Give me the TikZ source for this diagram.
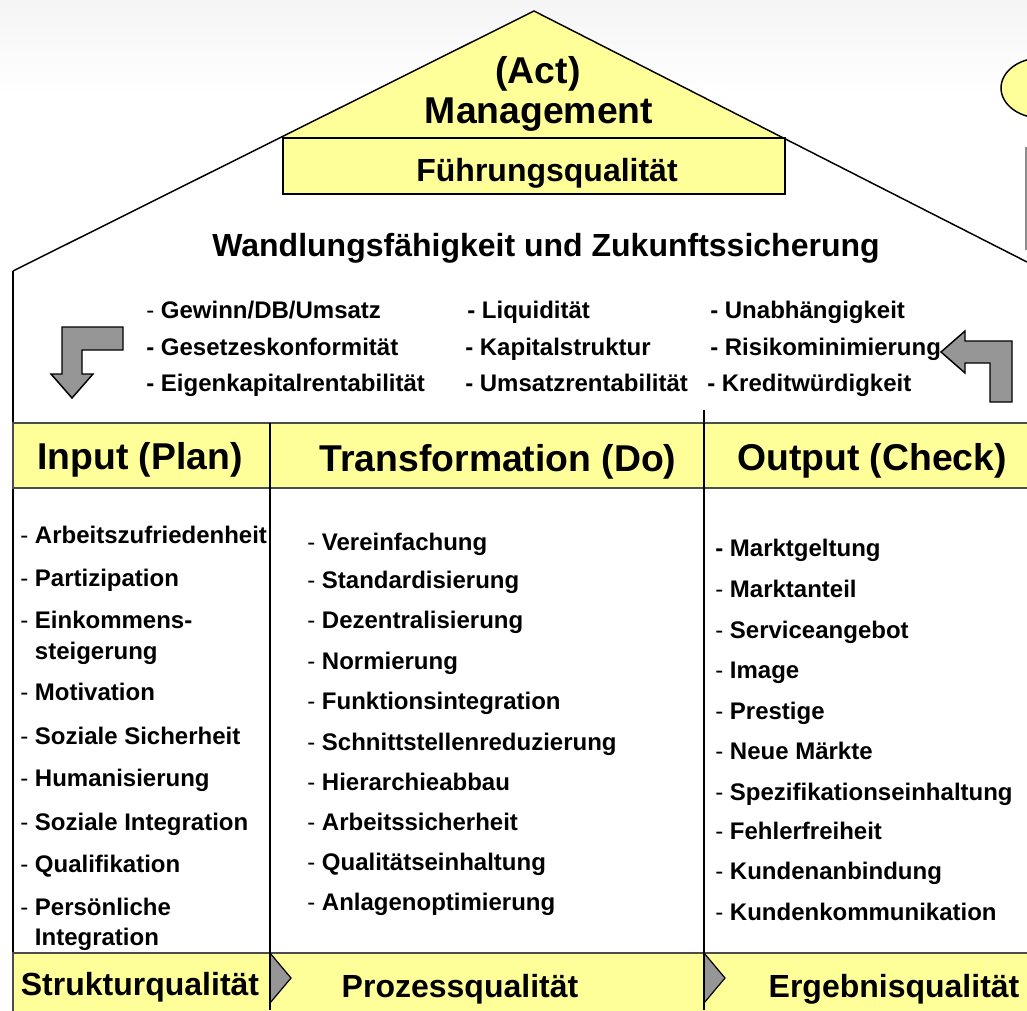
\documentclass[tikz,border=0pt]{standalone}
\usepackage{fontspec}
\setmainfont{Liberation Sans}
\usetikzlibrary{calc}
\definecolor{paleyellow}{HTML}{FFFF99}
\definecolor{arrowgray}{HTML}{969696}
\newcommand\thindash{{\mdseries -}}

\begin{document}
\begin{tikzpicture}[x=0.75pt,y=-0.75pt,
  lst/.style={anchor=base west,inner sep=0pt,font=\fontsize{18}{20}\selectfont\bfseries},
  ttl/.style={anchor=base,inner sep=0pt,font=\fontsize{24}{28}\selectfont\bfseries},
  big/.style={anchor=base,inner sep=0pt,font=\fontsize{28}{32}\selectfont\bfseries},
  wall/.style={draw=black,line width=1.1pt},
  yellowbox/.style={fill=paleyellow,draw=black,line width=1.4pt},
  bentarrow/.style={fill=arrowgray,draw=black,line width=1.1pt,line join=miter},
  chevron/.style={fill=arrowgray,draw=black,line width=0.9pt}]

\useasboundingbox (0,0) rectangle (1027,1010);
\begin{scope}
\clip (0,0) rectangle (1027,1010);

% faint slide background
\fill[white] (0,0) rectangle (1027,1010);
\shade[top color=black!4,bottom color=white] (0,0) rectangle (1027,95);

% key points of the house outline
\coordinate (apex) at (534,11);
\coordinate (eaveL) at (13,271);
\coordinate (eaveR) at (1027,262);
\coordinate (gableL) at (280,138);
\coordinate (gableR) at (784,138);

% right-hand callout, mostly off the page
\draw[fill=paleyellow,draw=black,line width=1.1pt] (1041,88) ellipse [x radius=40,y radius=30];
\draw[black!45,line width=0.8pt] (1026,147) -- (1026,250);

% gable (management) and leadership bar
\fill[paleyellow] (apex) -- (gableL) -- (gableR) -- cycle;
\draw[yellowbox] (283,138) rectangle (785,194);
\draw[wall] (eaveL) -- (apex) -- (eaveR);
\draw[wall] (eaveL) -- (13,1010);

\node[big] (act) at (538,83) {(Act)};
\node[big] (mgmt) at (539,123) {Management};
\node[ttl] (fq) at (547,181) {Führungsqualität};
\node[ttl] (wz) at (546,256) {Wandlungsfähigkeit und Zukunftssicherung};

% financial goals
\node[lst] (g1) at (146,318) {\thindash\ Gewinn/DB/Umsatz};
\node[lst] (g2) at (146,355) {- Gesetzeskonformität};
\node[lst] (g3) at (146,391) {- Eigenkapitalrentabilität};
\node[lst] (g4) at (467,318) {- Liquidität};
\node[lst] (g5) at (465,355) {- Kapitalstruktur};
\node[lst] (g6) at (465,391) {- Umsatzrentabilität};
\node[lst] (g7) at (710,318) {- Unabhängigkeit};
\node[lst] (g8) at (710,355) {- Risikominimierung};
\node[lst] (g9) at (707,391) {- Kreditwürdigkeit};

% bent cycle arrows
\draw[bentarrow] (62,327) -- (123,327) -- (123,350) -- (82,350) -- (82,374)
  -- (93,374) -- (72,398) -- (51,374) -- (62,374) -- cycle;
\draw[bentarrow] (941,352) -- (965,331) -- (965,341) -- (1012,341) -- (1012,402)
  -- (990,402) -- (990,363) -- (965,363) -- (965,373) -- cycle;

% column header row
\draw[black!70,line width=1.1pt,fill=paleyellow] (13,423) rectangle (1040,488);
\node[big] (hin) at (140,469) {Input (Plan)};
\node[big] (htr) at (498,471) {Transformation (Do)};
\node[big] (hout) at (872,470) {Output (Check)};

% bottom quality bar
\draw[black!70,line width=1.1pt,fill=paleyellow] (13,953) rectangle (1040,1020);
\draw[chevron] (270,953) -- (291,978) -- (270,1003) -- cycle;
\draw[chevron] (704,953) -- (725,978) -- (704,1003) -- cycle;
\node[ttl] (sq) at (140,995) {Strukturqualität};
\node[ttl] (pq) at (460,997) {Prozessqualität};
\node[ttl] (eq) at (894,997) {Ergebnisqualität};

% column dividers
\draw[wall] (270,423) -- (270,1010);
\draw[wall] (704,410) -- (704,1010);

% input column
\node[lst] (i1) at (20,543) {\thindash\ Arbeitszufriedenheit};
\node[lst] (i2) at (20,586) {\thindash\ Partizipation};
\node[lst] (i3) at (20,628) {\thindash\ Einkommens-};
\node[lst] (i3b) at (20,659) {\phantom{-}\ steigerung};
\node[lst] (i4) at (20,700) {\thindash\ Motivation};
\node[lst] (i5) at (20,744) {\thindash\ Soziale Sicherheit};
\node[lst] (i6) at (20,786) {\thindash\ Humanisierung};
\node[lst] (i7) at (20,830) {\thindash\ Soziale Integration};
\node[lst] (i8) at (20,872) {\thindash\ Qualifikation};
\node[lst] (i9) at (20,915) {\thindash\ Persönliche};
\node[lst] (i9b) at (20,945) {\phantom{-}\ Integration};

% transformation column
\node[lst] (t1) at (307,550) {\thindash\ Vereinfachung};
\node[lst] (t2) at (307,588) {\thindash\ Standardisierung};
\node[lst] (t3) at (307,628) {\thindash\ Dezentralisierung};
\node[lst] (t4) at (307,669) {\thindash\ Normierung};
\node[lst] (t5) at (307,709) {\thindash\ Funktionsintegration};
\node[lst] (t6) at (307,750) {\thindash\ Schnittstellenreduzierung};
\node[lst] (t7) at (307,790) {\thindash\ Hierarchieabbau};
\node[lst] (t8) at (307,830) {\thindash\ Arbeitssicherheit};
\node[lst] (t9) at (307,870) {\thindash\ Qualitätseinhaltung};
\node[lst] (t10) at (307,910) {\thindash\ Anlagenoptimierung};

% output column
\node[lst] (o1) at (715,556) {- Marktgeltung};
\node[lst] (o2) at (715,597) {\thindash\ Marktanteil};
\node[lst] (o3) at (715,638) {\thindash\ Serviceangebot};
\node[lst] (o4) at (715,678) {\thindash\ Image};
\node[lst] (o5) at (715,719) {\thindash\ Prestige};
\node[lst] (o6) at (715,759) {\thindash\ Neue Märkte};
\node[lst] (o7) at (715,800) {\thindash\ Spezifikationseinhaltung};
\node[lst] (o8) at (715,839) {\thindash\ Fehlerfreiheit};
\node[lst] (o9) at (715,879) {\thindash\ Kundenanbindung};
\node[lst] (o10) at (715,920) {\thindash\ Kundenkommunikation};
\end{scope}
\end{tikzpicture}
\end{document}
